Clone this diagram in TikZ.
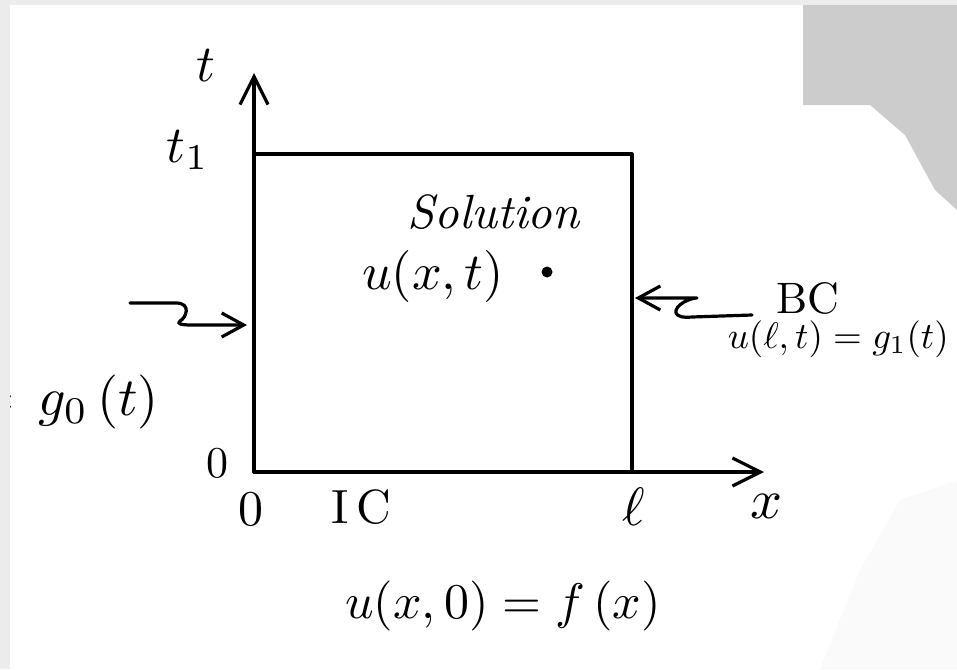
\documentclass[tikz,border=0pt]{standalone}
\usepackage{amsmath}
\usepackage{amssymb}
\usetikzlibrary{arrows.meta}

\tikzset{
    lbl/.style={scale=#1/10, inner sep=0pt},
    lbl/.default=44,
    pen/.style={line width=3.2pt, line cap=round, line join=round},
    axis/.style={pen, -{Straight Barb[length=28pt,width=28pt]}},
    feed/.style={pen, -{Straight Barb[length=22pt,width=24pt]}}
}

\begin{document}
\begin{tikzpicture}[x=1pt,y=-1pt]
\useasboundingbox (0,0) rectangle (957,669);

% Scan noise, right edge
\fill[gray!40]
    (803,5) -- (957,5) -- (957,210) -- (935,190)
    -- (905,135) -- (870,105) -- (803,105) -- cycle;
\fill[gray!4]
    (957,480) -- (900,500) -- (860,570) -- (820,669)
    -- (957,669) -- cycle;

% Corners of the domain
\coordinate (O)  at (254,472);
\coordinate (tl) at (254,154);
\coordinate (tr) at (632,154);
\coordinate (br) at (632,472);
\coordinate (ttip) at (254,73);
\coordinate (xtip) at (764,472);

% Axes and the box
\draw[axis] (O) -- (ttip);
\draw[axis] (O) -- (xtip);
\draw[pen] (tl) -- (tr) -- (br);

% Boundary feeds
\coordinate (lfrom) at (130,303);
\coordinate (lhit)  at (247,325);
\coordinate (rfrom) at (752,315);
\coordinate (rhit)  at (635,298);

\draw[feed]
    (lfrom) -- (176,303)
    .. controls (192,303) and (186,318) .. (180,321)
    .. controls (176,324) and (182,325) .. (192,325)
    -- (lhit);
\draw[feed]
    (rfrom) -- (692,317)
    .. controls (672,319) and (672,309) .. (684,302)
    .. controls (690,299) and (694,298) .. (697,298)
    -- (rhit);

% Axis labels
\node[lbl=52] (tlab)  at (206,66)  {$t$};
\node[lbl=52] (t1lab) at (188,150) {$t_1$};
\node[lbl=44] (zl)    at (217,463) {$0$};
\node[lbl=50] (zb)    at (251,509) {$0$};
\node[lbl=48] (ic)    at (361,507) {I\,C};
\node[lbl=54] (ell)   at (634,507) {$\ell$};
\node[lbl=56] (xlab)  at (766,506) {$x$};

% Interior
\node[lbl=48] (sol) at (494,212) {\textit{Solution}};
\node[lbl=52] (uxt) at (433,276) {$u(x,t)$};
\node[circle, fill, inner sep=0pt, minimum size=11pt] (pt) at (547,272) {};

% Conditions
\node[lbl=44] (bc)  at (808,298) {BC};
\node[lbl=37, anchor=west] (ult) at (727,339) {$u(\ell,t)=g_1(t)$};
\node[lbl=54, anchor=east] (g0)  at (160,402) {$=\,g_0\,(t)$};
\node[lbl=50] (ux0) at (503,606) {$u(x,0)=f\,(x)$};

% Scan frame
\fill[gray!15] (0,0) rectangle (957,5);
\fill[gray!15] (0,0) rectangle (10,669);

\end{tikzpicture}
\end{document}
